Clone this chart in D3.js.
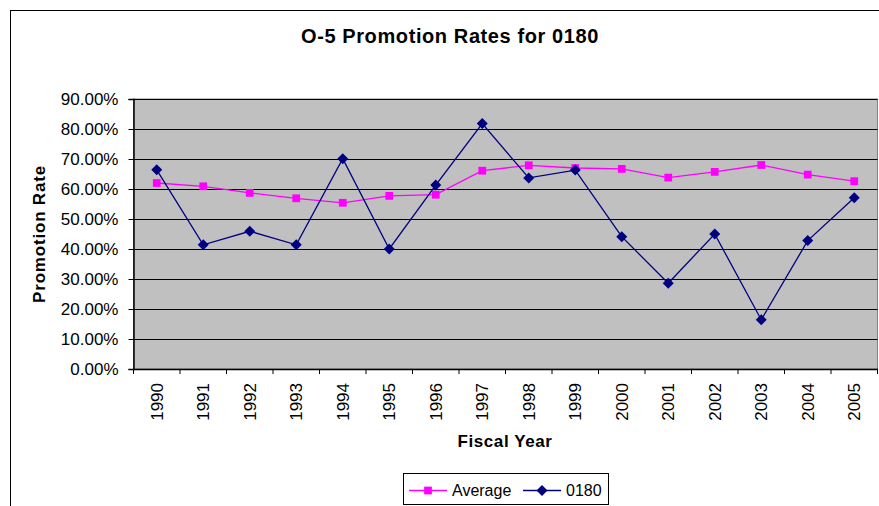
<!DOCTYPE html>
<html>
<head>
<meta charset="utf-8">
<script src="https://cdn.jsdelivr.net/npm/d3@7"></script>
<style>
  body { margin: 0; background: #fff; }
  svg { display: block; font-family: "Liberation Sans", Arial, sans-serif; }
  .grid line { stroke: #000; stroke-width: 1; }
  .axis path, .axis line { stroke: #000; }
  .axis text { fill: #000; font-size: 17px; }
</style>
</head>
<body>
<div id="chart"></div>
<script>
// fiscal years along the x axis
var years = ["1990", "1991", "1992", "1993", "1994", "1995", "1996", "1997",
             "1998", "1999", "2000", "2001", "2002", "2003", "2004", "2005"];

// promotion rates
var average = [0.620, 0.609, 0.587, 0.569, 0.554, 0.577, 0.581, 0.661,
               0.679, 0.670, 0.667, 0.638, 0.657, 0.680, 0.648, 0.626];
var rate0180 = [0.664, 0.414, 0.459, 0.414, 0.701, 0.400, 0.613, 0.818,
                0.637, 0.663, 0.441, 0.286, 0.450, 0.164, 0.428, 0.571];

var yTicks = [0, 0.1, 0.2, 0.3, 0.4, 0.5, 0.6, 0.7, 0.8, 0.9];

var series = [
  { name: "Average", values: average, color: "#ff00ff", shape: "square" },
  { name: "0180", values: rate0180, color: "#000080", shape: "diamond" }
];

var width = 879, height = 506;
var margin = { left: 133.5, top: 99, right: 1.5, bottom: 137 };
var graphWidth = width - margin.left - margin.right,
    graphHeight = height - margin.top - margin.bottom;

var svg = d3.select("#chart").append("svg")
    .attr("width", width)
    .attr("height", height);

// outer chart frame (runs off the right and bottom edges)
svg.append("rect")
    .attr("x", 10.5).attr("y", 10.5)
    .attr("width", width + 20).attr("height", height + 20)
    .attr("fill", "#fff").attr("stroke", "#000");

svg.append("text")
    .attr("x", 450).attr("y", 43)
    .attr("text-anchor", "middle")
    .attr("font-size", "20px").attr("font-weight", "bold")
    .attr("letter-spacing", "0.6px")
    .text("O-5 Promotion Rates for 0180");

var g = svg.append("g")
    .attr("transform", "translate(" + margin.left + "," + margin.top + ")");

var x = d3.scaleBand().domain(years).range([0, graphWidth]);
var y = d3.scaleLinear().domain([0, 0.9]).range([graphHeight, 0]);

// plot background
g.append("rect")
    .attr("width", graphWidth).attr("height", graphHeight)
    .attr("fill", "#c0c0c0").attr("stroke", "#808080");

// horizontal gridlines
g.append("g")
    .attr("class", "grid")
    .selectAll("line").data(yTicks.slice(1)).enter().append("line")
    .attr("x1", 0).attr("x2", graphWidth)
    .attr("y1", d => Math.round(y(d)) + 0.5)
    .attr("y2", d => Math.round(y(d)) + 0.5);

// y axis
var yAxis = g.append("g")
    .attr("class", "axis")
    .call(d3.axisLeft(y).tickValues(yTicks).tickSize(5).tickPadding(10)
      .tickFormat(d3.format(".2%")));
yAxis.select(".domain").attr("stroke-width", 1.5);

// x axis: ticks sit on the category boundaries
var xAxis = g.append("g")
    .attr("class", "axis")
    .attr("transform", "translate(0," + graphHeight + ")")
    .call(d3.axisBottom(x).tickSize(0).tickPadding(0));
xAxis.select(".domain").attr("stroke-width", 1.5);
xAxis.selectAll(".tick text")
    .attr("transform", "rotate(-90)")
    .attr("text-anchor", "end")
    .attr("dy", "0.35em")
    .attr("x", -14)
    .attr("y", 0);
g.append("g")
    .selectAll("line").data(years.concat([null])).enter().append("line")
    .attr("x1", (d, i) => i * x.step()).attr("x2", (d, i) => i * x.step())
    .attr("y1", graphHeight).attr("y2", graphHeight + 5)
    .attr("stroke", "#000");

// axis titles
svg.append("text")
    .attr("transform", "translate(45," + (margin.top + graphHeight / 2) + ") rotate(-90)")
    .attr("text-anchor", "middle")
    .attr("font-size", "17px").attr("font-weight", "bold")
    .attr("letter-spacing", "0.8px")
    .text("Promotion Rate");

svg.append("text")
    .attr("x", 505).attr("y", 447)
    .attr("text-anchor", "middle")
    .attr("font-size", "17px").attr("font-weight", "bold")
    .attr("letter-spacing", "0.6px")
    .text("Fiscal Year");

var cx = (d, i) => x(years[i]) + x.bandwidth() / 2;
var line = d3.line().x(cx).y(d => y(d));

// Excel style markers: square and a square turned on its corner
var square = d3.symbol().type(d3.symbolSquare).size(60);
var diamond = "M0,-5.5L5.5,0L0,5.5L-5.5,0Z";

series.forEach(function(s) {
  g.append("path")
    .attr("d", line(s.values))
    .attr("fill", "none")
    .attr("stroke", s.color)
    .attr("stroke-width", 1.3);

  g.append("g")
    .selectAll("path").data(s.values).enter().append("path")
    .attr("transform", (d, i) => "translate(" + cx(d, i) + "," + y(d) + ")")
    .attr("d", s.shape == "square" ? square : diamond)
    .attr("fill", s.color);
});

// legend
var legend = svg.append("g").attr("transform", "translate(403,473)");
legend.append("rect")
    .attr("x", 0.5).attr("y", 0.5)
    .attr("width", 205).attr("height", 31)
    .attr("fill", "#fff").attr("stroke", "#000");

var legendX = [6, 120];
series.forEach(function(s, i) {
  var item = legend.append("g").attr("transform", "translate(" + legendX[i] + ",17.5)");
  item.append("line")
    .attr("x1", 0).attr("x2", 38)
    .attr("stroke", s.color).attr("stroke-width", 1.3);
  item.append("path")
    .attr("transform", "translate(19,0)")
    .attr("d", s.shape == "square" ? square : diamond)
    .attr("fill", s.color);
  item.append("text")
    .attr("x", 43).attr("dy", "0.35em")
    .attr("font-size", "16px")
    .text(s.name);
});
</script>
</body>
</html>
